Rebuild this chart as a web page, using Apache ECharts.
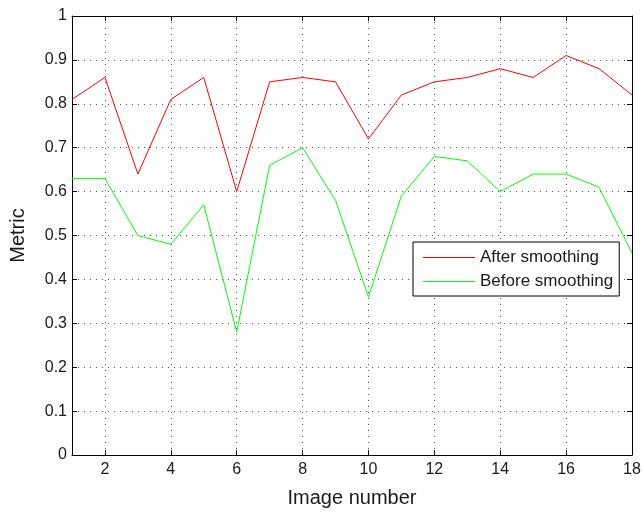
<!DOCTYPE html>
<html>
<head>
<meta charset="utf-8">
<script src="https://cdn.jsdelivr.net/npm/echarts@6/dist/echarts.min.js"></script>
<style>
html,body{margin:0;padding:0;background:#fff;}
#chart{width:644px;height:513px;}
</style>
</head>
<body>
<div id="chart"></div>
<script>
var imageNumbers = [1,2,3,4,5,6,7,8,9,10,11,12,13,14,15,16,17,18];
var afterSmoothing = [0.81,0.86,0.64,0.81,0.86,0.60,0.85,0.86,0.85,0.72,0.82,0.85,0.86,0.88,0.86,0.91,0.88,0.82];
var beforeSmoothing = [0.63,0.63,0.50,0.48,0.57,0.28,0.66,0.70,0.58,0.36,0.59,0.68,0.67,0.60,0.64,0.64,0.61,0.46];
var xTicks = [2,4,6,8,10,12,14,16,18];
var seriesNames = ['After smoothing','Before smoothing'];
var seriesColors = ['#ff0000','#00ff00'];

var FONT = '"Liberation Sans", Arial, Helvetica, sans-serif';
var TXT = '#1a1a1a';

function pairs(ys){ return imageNumbers.map(function(x,i){ return [x, ys[i]]; }); }

var gridLine = { show: true, lineStyle: { color: '#555', width: 1, type: [1, 5] } };

var chart = echarts.init(document.getElementById('chart'), null, {renderer:'canvas'});
chart.setOption({
  animation: false,
  backgroundColor: '#fff',
  grid: { left: 72, right: 12, top: 16, bottom: 55, containLabel: false },
  legend: {
    orient: 'vertical',
    left: 413, top: 242,
    align: 'left',
    backgroundColor: '#fff',
    borderColor: '#000', borderWidth: 1, borderRadius: 0,
    padding: [6, 6, 5, 10],
    itemGap: 5,
    itemWidth: 52, itemHeight: 1,
    icon: 'rect',
    textStyle: { fontFamily: FONT, fontSize: 17, color: TXT, lineHeight: 19 },
    data: seriesNames.map(function(n, i){
      return { name: n, icon: 'rect',
        itemStyle: { color: seriesColors[i], borderColor: seriesColors[i], borderWidth: 0, opacity: 1, decal: 'none' } };
    })
  },
  xAxis: [{
    type: 'value', min: 1, max: 18,
    name: 'Image number', nameLocation: 'middle', nameGap: 33,
    nameTextStyle: { fontFamily: FONT, fontSize: 20, color: TXT },
    axisLine: { show: true, onZero: false, lineStyle: { color: '#000', width: 1 } },
    axisTick: { show: true, inside: true, length: 5, customValues: xTicks, lineStyle: { color: '#000' } },
    axisLabel: { show: true, customValues: xTicks, margin: 7, fontFamily: FONT, fontSize: 16, color: TXT },
    splitLine: gridLine
  },{
    type: 'value', min: 1, max: 18, position: 'top',
    axisLine: { show: true, onZero: false, lineStyle: { color: '#000', width: 1 } },
    axisTick: { show: true, inside: true, length: 5, customValues: xTicks, lineStyle: { color: '#000' } },
    axisLabel: { show: false },
    splitLine: { show: false }
  }],
  yAxis: [{
    type: 'value', min: 0, max: 1, interval: 0.1,
    name: 'Metric', nameLocation: 'middle', nameGap: 44,
    nameTextStyle: { fontFamily: FONT, fontSize: 20, color: TXT },
    axisLine: { show: true, onZero: false, lineStyle: { color: '#000', width: 1 } },
    axisTick: { show: true, inside: true, length: 5, lineStyle: { color: '#000' } },
    axisLabel: { show: true, margin: 5, fontFamily: FONT, fontSize: 16, color: TXT },
    splitLine: gridLine
  },{
    type: 'value', min: 0, max: 1, interval: 0.1, position: 'right',
    axisLine: { show: true, onZero: false, lineStyle: { color: '#000', width: 1 } },
    axisTick: { show: true, inside: true, length: 5, lineStyle: { color: '#000' } },
    axisLabel: { show: false },
    splitLine: { show: false }
  }],
  series: [{
    name: seriesNames[0], type: 'line', data: pairs(afterSmoothing),
    showSymbol: false, symbol: 'none', color: seriesColors[0],
    itemStyle: { color: seriesColors[0] },
    lineStyle: { color: seriesColors[0], width: 1 }
  },{
    name: seriesNames[1], type: 'line', data: pairs(beforeSmoothing),
    showSymbol: false, symbol: 'none', color: seriesColors[1],
    itemStyle: { color: seriesColors[1] },
    lineStyle: { color: seriesColors[1], width: 1 }
  }]
});
</script>
</body>
</html>
